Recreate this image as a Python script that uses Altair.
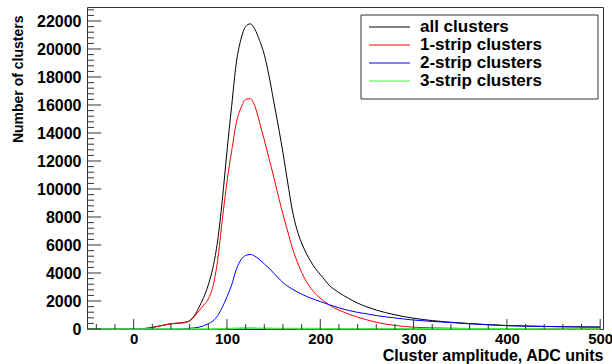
import altair as alt
import pandas as pd

# ---- data ----
x_grid = [-50, -40, -30, -20, -10,
          0, 5, 10, 15, 20, 25, 30, 35, 40, 45, 50, 55, 60, 65, 70, 75, 80, 85, 90, 95,
          100, 105, 110, 115, 120, 125, 130, 135, 140, 145, 150, 155, 160, 165, 170, 175,
          180, 185, 190, 195, 200,
          210, 220, 230, 240, 250, 260, 270, 280, 290, 300,
          320, 340, 360, 380, 400, 420, 440, 460, 480, 500]

all_clusters = [0, 0, 0, 0, 0,
                5, 15, 30, 60, 110, 180, 250, 320, 380, 410, 430, 480, 600, 950, 1550, 2250, 3150, 4400, 6300, 9200,
                12700, 15900, 19000, 20700, 21600, 21800, 21400, 20600, 19600, 18100, 16300, 14500, 12600, 10500, 8500, 7100,
                6150, 5400, 4800, 4300, 3900,
                3100, 2600, 2200, 1850, 1580, 1350, 1170, 1020, 880, 770,
                600, 480, 390, 310, 250, 210, 185, 165, 150, 140]

strip1 = [0, 0, 0, 0, 0,
          0, 10, 25, 55, 100, 170, 240, 310, 370, 400, 415, 460, 570, 880, 1300, 1700, 2150, 3050, 4900, 7800,
          10500, 12700, 14700, 15800, 16400, 16450, 15900, 14750, 13500, 12200, 10900, 9500, 8200, 7000, 5800, 4850,
          4050, 3400, 2900, 2500, 2200,
          1700, 1350, 1080, 850, 650, 480, 350, 260, 180, 130,
          80, 55, 40, 30, 25, 20, 15, 12, 10, 8]

strip2 = [0, 0, 0, 0, 0,
          0, 0, 0, 0, 0, 0, 0, 0, 0, 5, 15, 30, 50, 80, 130, 230, 380, 580, 950, 1550,
          2300, 3150, 4250, 4950, 5250, 5330, 5200, 4950, 4650, 4350, 4000, 3650, 3320, 3060, 2850, 2660,
          2490, 2340, 2200, 2080, 1960,
          1730, 1510, 1330, 1190, 1080, 960, 870, 790, 710, 640,
          540, 460, 370, 300, 235, 205, 180, 160, 145, 135]

strip3 = [0, 0, 0, 0, 0,
          0, 0, 0, 0, 0, 0, 0, 0, 0, 0, 0, 0, 0, 0, 0, 0, 0, 5, 10, 20,
          30, 40, 50, 60, 65, 65, 60, 55, 50, 45, 40, 38, 36, 34, 32, 30,
          28, 26, 25, 24, 23,
          21, 20, 19, 18, 17, 16, 15, 14, 13, 12,
          11, 10, 9, 8, 7, 6, 5, 5, 4, 4]

series_names = ["all clusters", "1-strip clusters", "2-strip clusters", "3-strip clusters"]
series_colors = ["#000000", "#ff0000", "#0000ff", "#44ee44"]
series_widths = [1, 1, 1, 1.6]
series_values = [all_clusters, strip1, strip2, strip3]

x_major_ticks = [0, 100, 200, 300, 400, 500]
x_minor_ticks = [v for v in range(-40, 501, 20) if v % 100 != 0]
y_major_ticks = [0, 2000, 4000, 6000, 8000, 10000, 12000, 14000, 16000, 18000, 20000, 22000]
y_minor_ticks = [v for v in range(400, 23000, 400) if v % 2000 != 0]

# ---- layout ----
W, H = 516, 322
FONT = "Liberation Sans"
X_TITLE = "Cluster amplitude, ADC units"
Y_TITLE = "Number of clusters"
xs = alt.Scale(domain=[-50, 503], nice=False, zero=False)
ys = alt.Scale(domain=[0, 23000], nice=False, zero=False)

x_axis = alt.Axis(values=x_major_ticks, format="d", title=X_TITLE,
                  labelPadding=2, labelFlush=False, labelFontSize=15,
                  titleFontSize=16, titleAlign="right",
                  titleX=W, titleY=31, titleBaseline="alphabetic")
y_axis = alt.Axis(values=y_major_ticks, format="d", title=Y_TITLE,
                  labelPadding=6, labelFontSize=16, titleFontSize=14, titleAngle=270, titleAlign="right",
                  titleBaseline="middle", titleX=-69, titleY=8)

layers = []

# histogram curves
for name, color, sw, vals in zip(series_names, series_colors, series_widths, series_values):
    df = pd.DataFrame({"x": x_grid, "y": vals})
    layers.append(
        alt.Chart(df).mark_line(color=color, strokeWidth=sw, interpolate="monotone").encode(
            x=alt.X("x:Q", scale=xs, axis=x_axis, title=X_TITLE),
            y=alt.Y("y:Q", scale=ys, axis=y_axis, title=Y_TITLE),
        )
    )

# tick marks (drawn inward, as in the reference)
def xtick_layer(vals, length):
    return alt.Chart(pd.DataFrame({"x": vals})).mark_rule(color="#333", strokeWidth=1).encode(
        x=alt.X("x:Q", scale=xs, axis=x_axis, title=X_TITLE),
        y=alt.value(H), y2=alt.value(H - length))

def ytick_layer(vals, length):
    return alt.Chart(pd.DataFrame({"y": vals})).mark_rule(color="#333", strokeWidth=1).encode(
        y=alt.Y("y:Q", scale=ys, axis=y_axis, title=Y_TITLE),
        x=alt.value(0), x2=alt.value(length))

layers += [xtick_layer(x_major_ticks, 10), xtick_layer(x_minor_ticks, 5),
           ytick_layer(y_major_ticks, 14), ytick_layer(y_minor_ticks, 7)]

# legend box
layers.append(
    alt.Chart(pd.DataFrame({"a": [0]})).mark_rect(fill="white", stroke="#333", strokeWidth=1).encode(
        x=alt.value(274), x2=alt.value(511), y=alt.value(8), y2=alt.value(92))
)
row_y = [20, 38, 56, 74]
for name, color, yy in zip(series_names, series_colors, row_y):
    layers.append(
        alt.Chart(pd.DataFrame({"a": [0]})).mark_rule(color=color, strokeWidth=1).encode(
            x=alt.value(282), x2=alt.value(323), y=alt.value(yy))
    )
    layers.append(
        alt.Chart(pd.DataFrame({"label": [name]})).mark_text(
            align="left", baseline="middle", font=FONT, fontSize=17, fontWeight="bold", color="black"
        ).encode(x=alt.value(333), y=alt.value(yy), text="label:N")
    )

chart = alt.layer(*layers).properties(
    width=W, height=H,
    padding={"left": 87, "top": 7, "right": 9, "bottom": 35},
    autosize=alt.AutoSizeParams(type="none"),
).configure(background="white").configure_view(
    stroke="#333", strokeWidth=1
).configure_axis(
    domain=False, ticks=False, grid=False,
    labelFont=FONT, labelFontWeight="bold", labelColor="black",
    titleFont=FONT, titleFontWeight="bold", titleColor="black",
)

chart.save("out.html", embed_options={"renderer": "svg", "actions": False})
